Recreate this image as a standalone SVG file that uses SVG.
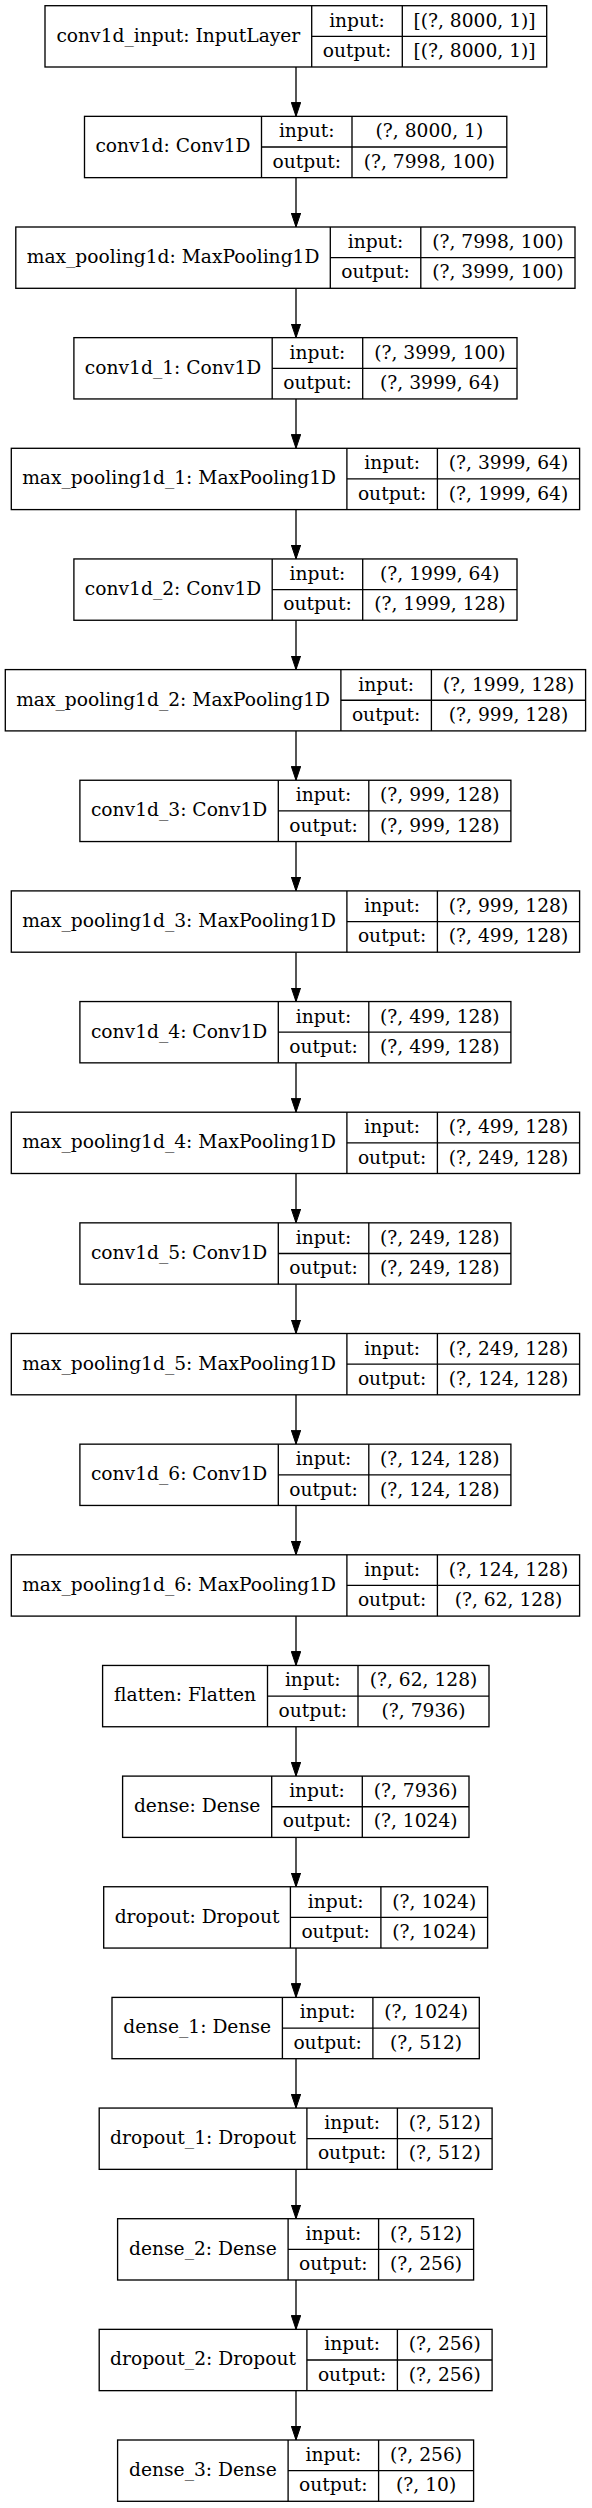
<svg xmlns="http://www.w3.org/2000/svg" width="592" height="2508" viewBox="0 0 592 2508">
<defs>
<style>
.box{fill:#fff;stroke:#000;stroke-width:1.33}
.div{stroke:#000;stroke-width:1.33}
.t{font-family:"DejaVu Serif","Liberation Serif",serif;font-size:18.67px;fill:#000;text-anchor:middle}
.edge{stroke:#000;stroke-width:1.33;fill:none;marker-end:url(#arr)}
</style>
<marker id="arr" markerUnits="userSpaceOnUse" markerWidth="14" markerHeight="10" viewBox="0 0 14 10" refX="14" refY="5" orient="auto">
<path d="M0,0.3 L14,5 L0,9.7 z" fill="#000" stroke="#000" stroke-width="1"/>
</marker>
</defs>
<rect x="0" y="0" width="592" height="2508" fill="#fff"/>
<g id="connectors">
<line class="edge" x1="296" y1="67" x2="296" y2="116.35"/>
<line class="edge" x1="296" y1="177.65" x2="296" y2="227"/>
<line class="edge" x1="296" y1="288.3" x2="296" y2="337.65"/>
<line class="edge" x1="296" y1="398.95" x2="296" y2="448.3"/>
<line class="edge" x1="296" y1="509.6" x2="296" y2="558.95"/>
<line class="edge" x1="296" y1="620.25" x2="296" y2="669.6"/>
<line class="edge" x1="296" y1="730.9" x2="296" y2="780.25"/>
<line class="edge" x1="296" y1="841.55" x2="296" y2="890.9"/>
<line class="edge" x1="296" y1="952.2" x2="296" y2="1001.55"/>
<line class="edge" x1="296" y1="1062.85" x2="296" y2="1112.2"/>
<line class="edge" x1="296" y1="1173.5" x2="296" y2="1222.85"/>
<line class="edge" x1="296" y1="1284.15" x2="296" y2="1333.5"/>
<line class="edge" x1="296" y1="1394.8" x2="296" y2="1444.15"/>
<line class="edge" x1="296" y1="1505.45" x2="296" y2="1554.8"/>
<line class="edge" x1="296" y1="1616.1" x2="296" y2="1665.45"/>
<line class="edge" x1="296" y1="1726.75" x2="296" y2="1776.1"/>
<line class="edge" x1="296" y1="1837.4" x2="296" y2="1886.75"/>
<line class="edge" x1="296" y1="1948.05" x2="296" y2="1997.4"/>
<line class="edge" x1="296" y1="2058.7" x2="296" y2="2108.05"/>
<line class="edge" x1="296" y1="2169.35" x2="296" y2="2218.7"/>
<line class="edge" x1="296" y1="2280" x2="296" y2="2329.35"/>
<line class="edge" x1="296" y1="2390.65" x2="296" y2="2440"/>
</g>
<g id="conv1d_input" transform="translate(0,5.7)">
<rect class="box" x="45" y="0" width="501.7" height="61.3"/>
<line class="div" x1="311.7" y1="0" x2="311.7" y2="61.3"/><line class="div" x1="402.3" y1="0" x2="402.3" y2="61.3"/><line class="div" x1="311.7" y1="30.65" x2="546.7" y2="30.65"/>
<text class="t" x="178.35" y="36">conv1d_input: InputLayer</text>
<text class="t" x="357" y="21">input:</text><text class="t" x="474.5" y="21">[(?, 8000, 1)]</text>
<text class="t" x="357" y="51.4">output:</text><text class="t" x="474.5" y="51.4">[(?, 8000, 1)]</text>
</g>
<g id="conv1d" transform="translate(0,116.35)">
<rect class="box" x="84.5" y="0" width="422.3" height="61.3"/>
<line class="div" x1="261.5" y1="0" x2="261.5" y2="61.3"/><line class="div" x1="352" y1="0" x2="352" y2="61.3"/><line class="div" x1="261.5" y1="30.65" x2="506.8" y2="30.65"/>
<text class="t" x="173" y="36">conv1d: Conv1D</text>
<text class="t" x="306.75" y="21">input:</text><text class="t" x="429.4" y="21">(?, 8000, 1)</text>
<text class="t" x="306.75" y="51.4">output:</text><text class="t" x="429.4" y="51.4">(?, 7998, 100)</text>
</g>
<g id="max_pooling1d" transform="translate(0,227)">
<rect class="box" x="15.8" y="0" width="559.2" height="61.3"/>
<line class="div" x1="330.3" y1="0" x2="330.3" y2="61.3"/><line class="div" x1="420.8" y1="0" x2="420.8" y2="61.3"/><line class="div" x1="330.3" y1="30.65" x2="575" y2="30.65"/>
<text class="t" x="173.05" y="36">max_pooling1d: MaxPooling1D</text>
<text class="t" x="375.55" y="21">input:</text><text class="t" x="497.9" y="21">(?, 7998, 100)</text>
<text class="t" x="375.55" y="51.4">output:</text><text class="t" x="497.9" y="51.4">(?, 3999, 100)</text>
</g>
<g id="conv1d_1" transform="translate(0,337.65)">
<rect class="box" x="73.9" y="0" width="443.1" height="61.3"/>
<line class="div" x1="272.2" y1="0" x2="272.2" y2="61.3"/><line class="div" x1="362.7" y1="0" x2="362.7" y2="61.3"/><line class="div" x1="272.2" y1="30.65" x2="517" y2="30.65"/>
<text class="t" x="173.05" y="36">conv1d_1: Conv1D</text>
<text class="t" x="317.45" y="21">input:</text><text class="t" x="439.85" y="21">(?, 3999, 100)</text>
<text class="t" x="317.45" y="51.4">output:</text><text class="t" x="439.85" y="51.4">(?, 3999, 64)</text>
</g>
<g id="max_pooling1d_1" transform="translate(0,448.3)">
<rect class="box" x="11.3" y="0" width="568.3" height="61.3"/>
<line class="div" x1="346.9" y1="0" x2="346.9" y2="61.3"/><line class="div" x1="437.4" y1="0" x2="437.4" y2="61.3"/><line class="div" x1="346.9" y1="30.65" x2="579.6" y2="30.65"/>
<text class="t" x="179.1" y="36">max_pooling1d_1: MaxPooling1D</text>
<text class="t" x="392.15" y="21">input:</text><text class="t" x="508.5" y="21">(?, 3999, 64)</text>
<text class="t" x="392.15" y="51.4">output:</text><text class="t" x="508.5" y="51.4">(?, 1999, 64)</text>
</g>
<g id="conv1d_2" transform="translate(0,558.95)">
<rect class="box" x="73.9" y="0" width="443.1" height="61.3"/>
<line class="div" x1="272.2" y1="0" x2="272.2" y2="61.3"/><line class="div" x1="362.7" y1="0" x2="362.7" y2="61.3"/><line class="div" x1="272.2" y1="30.65" x2="517" y2="30.65"/>
<text class="t" x="173.05" y="36">conv1d_2: Conv1D</text>
<text class="t" x="317.45" y="21">input:</text><text class="t" x="439.85" y="21">(?, 1999, 64)</text>
<text class="t" x="317.45" y="51.4">output:</text><text class="t" x="439.85" y="51.4">(?, 1999, 128)</text>
</g>
<g id="max_pooling1d_2" transform="translate(0,669.6)">
<rect class="box" x="5.3" y="0" width="580.3" height="61.3"/>
<line class="div" x1="340.9" y1="0" x2="340.9" y2="61.3"/><line class="div" x1="431.4" y1="0" x2="431.4" y2="61.3"/><line class="div" x1="340.9" y1="30.65" x2="585.6" y2="30.65"/>
<text class="t" x="173.1" y="36">max_pooling1d_2: MaxPooling1D</text>
<text class="t" x="386.15" y="21">input:</text><text class="t" x="508.5" y="21">(?, 1999, 128)</text>
<text class="t" x="386.15" y="51.4">output:</text><text class="t" x="508.5" y="51.4">(?, 999, 128)</text>
</g>
<g id="conv1d_3" transform="translate(0,780.25)">
<rect class="box" x="79.9" y="0" width="431" height="61.3"/>
<line class="div" x1="278.3" y1="0" x2="278.3" y2="61.3"/><line class="div" x1="368.8" y1="0" x2="368.8" y2="61.3"/><line class="div" x1="278.3" y1="30.65" x2="510.9" y2="30.65"/>
<text class="t" x="179.1" y="36">conv1d_3: Conv1D</text>
<text class="t" x="323.55" y="21">input:</text><text class="t" x="439.85" y="21">(?, 999, 128)</text>
<text class="t" x="323.55" y="51.4">output:</text><text class="t" x="439.85" y="51.4">(?, 999, 128)</text>
</g>
<g id="max_pooling1d_3" transform="translate(0,890.9)">
<rect class="box" x="11.3" y="0" width="568.3" height="61.3"/>
<line class="div" x1="346.9" y1="0" x2="346.9" y2="61.3"/><line class="div" x1="437.4" y1="0" x2="437.4" y2="61.3"/><line class="div" x1="346.9" y1="30.65" x2="579.6" y2="30.65"/>
<text class="t" x="179.1" y="36">max_pooling1d_3: MaxPooling1D</text>
<text class="t" x="392.15" y="21">input:</text><text class="t" x="508.5" y="21">(?, 999, 128)</text>
<text class="t" x="392.15" y="51.4">output:</text><text class="t" x="508.5" y="51.4">(?, 499, 128)</text>
</g>
<g id="conv1d_4" transform="translate(0,1001.55)">
<rect class="box" x="79.9" y="0" width="431" height="61.3"/>
<line class="div" x1="278.3" y1="0" x2="278.3" y2="61.3"/><line class="div" x1="368.8" y1="0" x2="368.8" y2="61.3"/><line class="div" x1="278.3" y1="30.65" x2="510.9" y2="30.65"/>
<text class="t" x="179.1" y="36">conv1d_4: Conv1D</text>
<text class="t" x="323.55" y="21">input:</text><text class="t" x="439.85" y="21">(?, 499, 128)</text>
<text class="t" x="323.55" y="51.4">output:</text><text class="t" x="439.85" y="51.4">(?, 499, 128)</text>
</g>
<g id="max_pooling1d_4" transform="translate(0,1112.2)">
<rect class="box" x="11.3" y="0" width="568.3" height="61.3"/>
<line class="div" x1="346.9" y1="0" x2="346.9" y2="61.3"/><line class="div" x1="437.4" y1="0" x2="437.4" y2="61.3"/><line class="div" x1="346.9" y1="30.65" x2="579.6" y2="30.65"/>
<text class="t" x="179.1" y="36">max_pooling1d_4: MaxPooling1D</text>
<text class="t" x="392.15" y="21">input:</text><text class="t" x="508.5" y="21">(?, 499, 128)</text>
<text class="t" x="392.15" y="51.4">output:</text><text class="t" x="508.5" y="51.4">(?, 249, 128)</text>
</g>
<g id="conv1d_5" transform="translate(0,1222.85)">
<rect class="box" x="79.9" y="0" width="431" height="61.3"/>
<line class="div" x1="278.3" y1="0" x2="278.3" y2="61.3"/><line class="div" x1="368.8" y1="0" x2="368.8" y2="61.3"/><line class="div" x1="278.3" y1="30.65" x2="510.9" y2="30.65"/>
<text class="t" x="179.1" y="36">conv1d_5: Conv1D</text>
<text class="t" x="323.55" y="21">input:</text><text class="t" x="439.85" y="21">(?, 249, 128)</text>
<text class="t" x="323.55" y="51.4">output:</text><text class="t" x="439.85" y="51.4">(?, 249, 128)</text>
</g>
<g id="max_pooling1d_5" transform="translate(0,1333.5)">
<rect class="box" x="11.3" y="0" width="568.3" height="61.3"/>
<line class="div" x1="346.9" y1="0" x2="346.9" y2="61.3"/><line class="div" x1="437.4" y1="0" x2="437.4" y2="61.3"/><line class="div" x1="346.9" y1="30.65" x2="579.6" y2="30.65"/>
<text class="t" x="179.1" y="36">max_pooling1d_5: MaxPooling1D</text>
<text class="t" x="392.15" y="21">input:</text><text class="t" x="508.5" y="21">(?, 249, 128)</text>
<text class="t" x="392.15" y="51.4">output:</text><text class="t" x="508.5" y="51.4">(?, 124, 128)</text>
</g>
<g id="conv1d_6" transform="translate(0,1444.15)">
<rect class="box" x="79.9" y="0" width="431" height="61.3"/>
<line class="div" x1="278.3" y1="0" x2="278.3" y2="61.3"/><line class="div" x1="368.8" y1="0" x2="368.8" y2="61.3"/><line class="div" x1="278.3" y1="30.65" x2="510.9" y2="30.65"/>
<text class="t" x="179.1" y="36">conv1d_6: Conv1D</text>
<text class="t" x="323.55" y="21">input:</text><text class="t" x="439.85" y="21">(?, 124, 128)</text>
<text class="t" x="323.55" y="51.4">output:</text><text class="t" x="439.85" y="51.4">(?, 124, 128)</text>
</g>
<g id="max_pooling1d_6" transform="translate(0,1554.8)">
<rect class="box" x="11.3" y="0" width="568.3" height="61.3"/>
<line class="div" x1="346.9" y1="0" x2="346.9" y2="61.3"/><line class="div" x1="437.4" y1="0" x2="437.4" y2="61.3"/><line class="div" x1="346.9" y1="30.65" x2="579.6" y2="30.65"/>
<text class="t" x="179.1" y="36">max_pooling1d_6: MaxPooling1D</text>
<text class="t" x="392.15" y="21">input:</text><text class="t" x="508.5" y="21">(?, 124, 128)</text>
<text class="t" x="392.15" y="51.4">output:</text><text class="t" x="508.5" y="51.4">(?, 62, 128)</text>
</g>
<g id="flatten" transform="translate(0,1665.45)">
<rect class="box" x="102.6" y="0" width="386.4" height="61.3"/>
<line class="div" x1="267.5" y1="0" x2="267.5" y2="61.3"/><line class="div" x1="358" y1="0" x2="358" y2="61.3"/><line class="div" x1="267.5" y1="30.65" x2="489" y2="30.65"/>
<text class="t" x="185.05" y="36">flatten: Flatten</text>
<text class="t" x="312.75" y="21">input:</text><text class="t" x="423.5" y="21">(?, 62, 128)</text>
<text class="t" x="312.75" y="51.4">output:</text><text class="t" x="423.5" y="51.4">(?, 7936)</text>
</g>
<g id="dense" transform="translate(0,1776.1)">
<rect class="box" x="122.6" y="0" width="346.4" height="61.3"/>
<line class="div" x1="271.7" y1="0" x2="271.7" y2="61.3"/><line class="div" x1="362.3" y1="0" x2="362.3" y2="61.3"/><line class="div" x1="271.7" y1="30.65" x2="469" y2="30.65"/>
<text class="t" x="197.15" y="36">dense: Dense</text>
<text class="t" x="317" y="21">input:</text><text class="t" x="415.65" y="21">(?, 7936)</text>
<text class="t" x="317" y="51.4">output:</text><text class="t" x="415.65" y="51.4">(?, 1024)</text>
</g>
<g id="dropout" transform="translate(0,1886.75)">
<rect class="box" x="103.7" y="0" width="383.9" height="61.3"/>
<line class="div" x1="290.4" y1="0" x2="290.4" y2="61.3"/><line class="div" x1="380.9" y1="0" x2="380.9" y2="61.3"/><line class="div" x1="290.4" y1="30.65" x2="487.6" y2="30.65"/>
<text class="t" x="197.05" y="36">dropout: Dropout</text>
<text class="t" x="335.65" y="21">input:</text><text class="t" x="434.25" y="21">(?, 1024)</text>
<text class="t" x="335.65" y="51.4">output:</text><text class="t" x="434.25" y="51.4">(?, 1024)</text>
</g>
<g id="dense_1" transform="translate(0,1997.4)">
<rect class="box" x="112" y="0" width="367.3" height="61.3"/>
<line class="div" x1="282.4" y1="0" x2="282.4" y2="61.3"/><line class="div" x1="372.9" y1="0" x2="372.9" y2="61.3"/><line class="div" x1="282.4" y1="30.65" x2="479.3" y2="30.65"/>
<text class="t" x="197.2" y="36">dense_1: Dense</text>
<text class="t" x="327.65" y="21">input:</text><text class="t" x="426.1" y="21">(?, 1024)</text>
<text class="t" x="327.65" y="51.4">output:</text><text class="t" x="426.1" y="51.4">(?, 512)</text>
</g>
<g id="dropout_1" transform="translate(0,2108.05)">
<rect class="box" x="99.2" y="0" width="392.9" height="61.3"/>
<line class="div" x1="306.9" y1="0" x2="306.9" y2="61.3"/><line class="div" x1="397.4" y1="0" x2="397.4" y2="61.3"/><line class="div" x1="306.9" y1="30.65" x2="492.1" y2="30.65"/>
<text class="t" x="203.05" y="36">dropout_1: Dropout</text>
<text class="t" x="352.15" y="21">input:</text><text class="t" x="444.75" y="21">(?, 512)</text>
<text class="t" x="352.15" y="51.4">output:</text><text class="t" x="444.75" y="51.4">(?, 512)</text>
</g>
<g id="dense_2" transform="translate(0,2218.7)">
<rect class="box" x="117.6" y="0" width="356" height="61.3"/>
<line class="div" x1="288.1" y1="0" x2="288.1" y2="61.3"/><line class="div" x1="378.6" y1="0" x2="378.6" y2="61.3"/><line class="div" x1="288.1" y1="30.65" x2="473.6" y2="30.65"/>
<text class="t" x="202.85" y="36">dense_2: Dense</text>
<text class="t" x="333.35" y="21">input:</text><text class="t" x="426.1" y="21">(?, 512)</text>
<text class="t" x="333.35" y="51.4">output:</text><text class="t" x="426.1" y="51.4">(?, 256)</text>
</g>
<g id="dropout_2" transform="translate(0,2329.35)">
<rect class="box" x="99.2" y="0" width="392.9" height="61.3"/>
<line class="div" x1="306.9" y1="0" x2="306.9" y2="61.3"/><line class="div" x1="397.4" y1="0" x2="397.4" y2="61.3"/><line class="div" x1="306.9" y1="30.65" x2="492.1" y2="30.65"/>
<text class="t" x="203.05" y="36">dropout_2: Dropout</text>
<text class="t" x="352.15" y="21">input:</text><text class="t" x="444.75" y="21">(?, 256)</text>
<text class="t" x="352.15" y="51.4">output:</text><text class="t" x="444.75" y="51.4">(?, 256)</text>
</g>
<g id="dense_3" transform="translate(0,2440)">
<rect class="box" x="117.6" y="0" width="356" height="61.3"/>
<line class="div" x1="288.1" y1="0" x2="288.1" y2="61.3"/><line class="div" x1="378.6" y1="0" x2="378.6" y2="61.3"/><line class="div" x1="288.1" y1="30.65" x2="473.6" y2="30.65"/>
<text class="t" x="202.85" y="36">dense_3: Dense</text>
<text class="t" x="333.35" y="21">input:</text><text class="t" x="426.1" y="21">(?, 256)</text>
<text class="t" x="333.35" y="51.4">output:</text><text class="t" x="426.1" y="51.4">(?, 10)</text>
</g>
</svg>
